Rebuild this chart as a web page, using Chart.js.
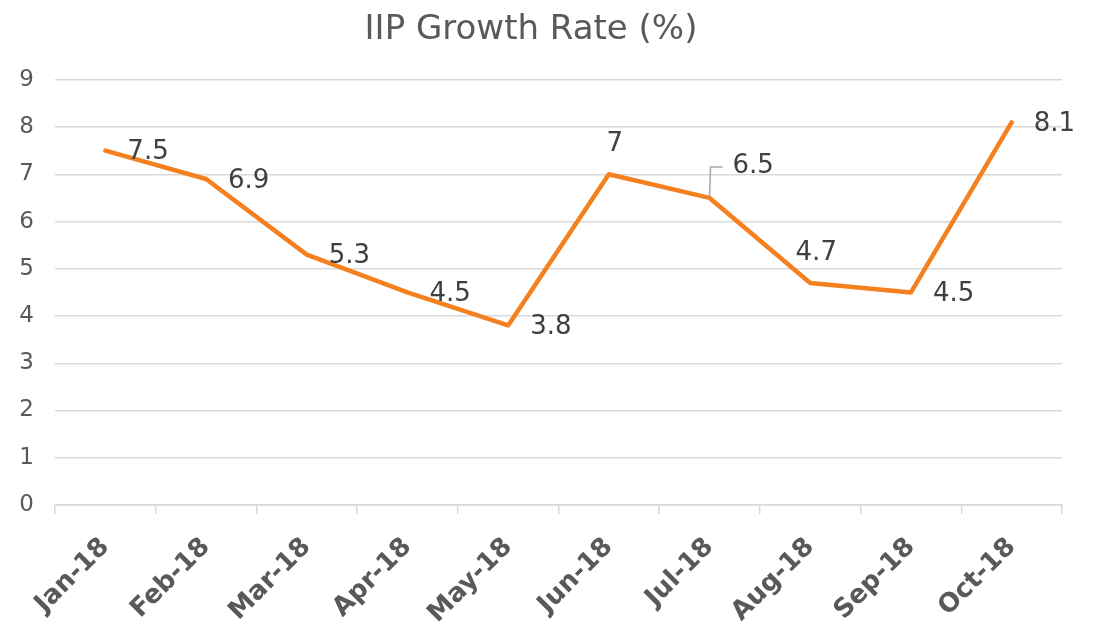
<!DOCTYPE html>
<html>
<head>
<meta charset="utf-8">
<script src="https://cdn.jsdelivr.net/npm/chart.js@4.4.0/dist/chart.umd.min.js"></script>
<style>
  html, body { margin: 0; padding: 0; background: #fff; }
  #wrap { width: 1095px; height: 633px; }
</style>
</head>
<body>
<div id="wrap"><canvas id="iipChart" width="1095" height="633"></canvas></div>
<script>
// 데이터
const months = ['Jan-18', 'Feb-18', 'Mar-18', 'Apr-18', 'May-18', 'Jun-18', 'Jul-18', 'Aug-18', 'Sep-18', 'Oct-18'];
const growthRate = [7.5, 6.9, 5.3, 4.5, 3.8, 7, 6.5, 4.7, 4.5, 8.1];
const yTicks = [0, 1, 2, 3, 4, 5, 6, 7, 8, 9];
// 라벨 위치 (right / above / leader)
const labelPlace = ['right', 'right', 'right', 'right', 'right', 'above', 'leader', 'above', 'right', 'right'];

const FONT = '"DejaVu Sans", sans-serif';

// 데이터 라벨 그리기
const pointLabels = {
	id: 'pointLabels',
	afterDatasetsDraw(chart) {
		const ctx = chart.ctx;
		const meta = chart.getDatasetMeta(0);
		ctx.save();
		ctx.font = '26px ' + FONT;
		ctx.fillStyle = '#404040';
		ctx.textBaseline = 'middle';
		meta.data.forEach((pt, i) => {
			const txt = String(growthRate[i]);
			const place = labelPlace[i];
			if (place === 'above') {
				ctx.textAlign = 'center';
				ctx.fillText(txt, pt.x + 6, pt.y - 30);
			} else if (place === 'leader') {
				ctx.strokeStyle = '#a6a6a6';
				ctx.lineWidth = 1.5;
				ctx.beginPath();
				ctx.moveTo(pt.x, pt.y - 2);
				ctx.lineTo(pt.x + 1, pt.y - 31);
				ctx.lineTo(pt.x + 13, pt.y - 31);
				ctx.stroke();
				ctx.textAlign = 'left';
				ctx.fillText(txt, pt.x + 23, pt.y - 32);
			} else {
				ctx.textAlign = 'left';
				ctx.fillText(txt, pt.x + 22, pt.y + 2);
			}
		});
		ctx.restore();
	}
};

const config = {
	type: 'line',
	data: {
		labels: months,
		datasets: [{
			label: 'IIP Growth Rate (%)',
			data: growthRate,
			borderColor: '#F4801F',
			borderWidth: 4.5,
			borderCapStyle: 'round',
			borderJoinStyle: 'round',
			pointRadius: 0,
			tension: 0,
			fill: false
		}]
	},
	options: {
		responsive: false,
		maintainAspectRatio: false,
		animation: { duration: 0 },
		layout: { padding: { left: 0, right: 33, top: 0, bottom: 0 } },
		plugins: {
			legend: { display: false },
			tooltip: { enabled: false },
			title: {
				display: true,
				text: 'IIP Growth Rate (%)',
				color: '#595959',
				font: { family: FONT, size: 34, weight: 'normal' },
				padding: { top: 10, bottom: 29 }
			}
		},
		scales: {
			y: {
				min: 0,
				max: 9,
				afterBuildTicks: (scale) => { scale.ticks = yTicks.map(v => ({ value: v })); },
				afterFit: (scale) => { scale.width = 55; },
				border: { display: false },
				grid: { color: '#d9d9d9', lineWidth: 1.5, drawTicks: false },
				ticks: {
					color: '#595959',
					padding: 21,
					font: { family: FONT, size: 23 }
				}
			},
			x: {
				offset: true,
				afterFit: (scale) => { scale.height = 128; },
				border: { display: true, color: '#d9d9d9', width: 1.5 },
				grid: {
					offset: true,
					drawOnChartArea: false,
					drawTicks: true,
					tickLength: 9,
					color: '#d9d9d9',
					lineWidth: 1.5
				},
				ticks: {
					color: '#595959',
					minRotation: 45,
					maxRotation: 45,
					padding: 18,
					font: { family: FONT, size: 26, weight: 'bold' }
				}
			}
		}
	},
	plugins: [pointLabels]
};

new Chart(document.getElementById('iipChart'), config);
</script>
</body>
</html>
